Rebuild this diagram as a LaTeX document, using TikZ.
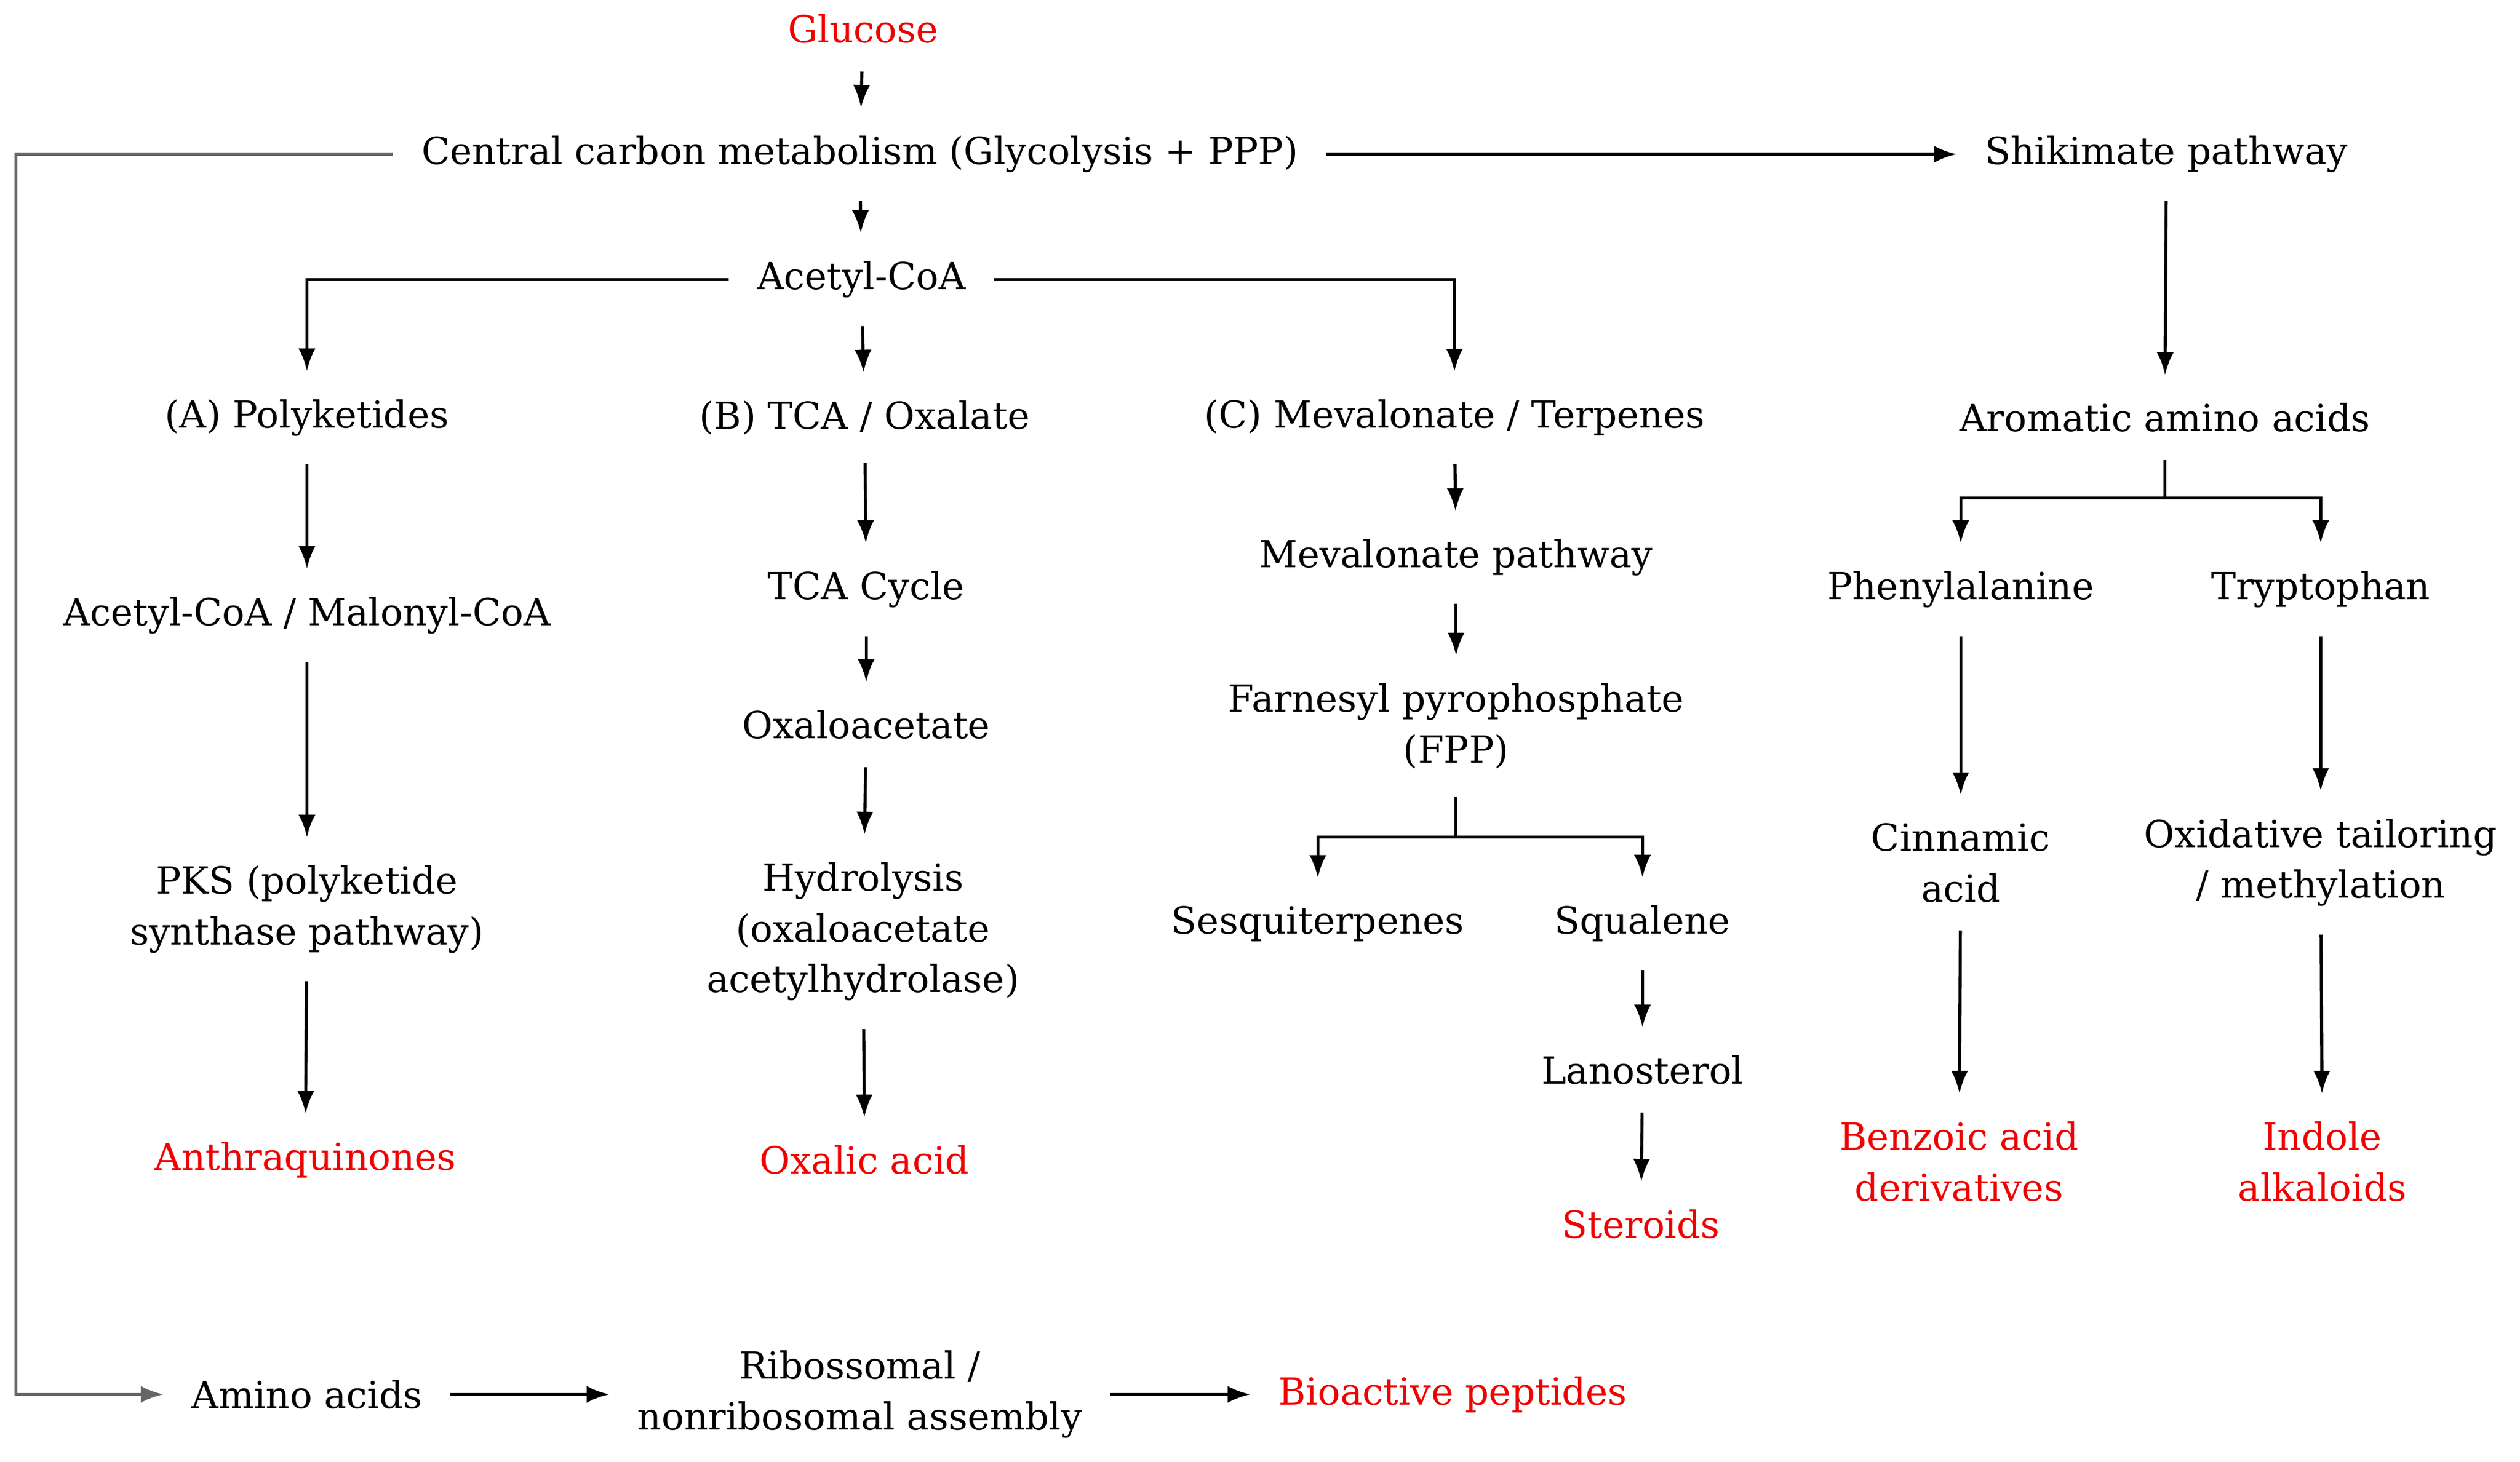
\documentclass[tikz,border=0pt]{standalone}
\usepackage{fontspec}
\setmainfont{DejaVu Serif}
\usetikzlibrary{arrows.meta}
\begin{document}
\begin{tikzpicture}[x=0.01cm,y=-0.01cm,
  every node/.style={font=\fontsize{6.6pt}{9pt}\selectfont,align=center,inner sep=1pt,outer sep=4pt},
  red/.style={text={rgb,255:red,240;green,0;blue,0}},
  arr/.style={-{Latex[length=4pt,width=3pt]},line width=0.55pt},
  ln/.style={line width=0.55pt}]
\useasboundingbox (0,0) rectangle (1568,910);
\node[red] (glucose) at (537,18) {Glucose};
\node (ccm) at (535,96) {Central carbon metabolism (Glycolysis + PPP)};
\node (shik) at (1348,96) {Shikimate pathway};
\node (acoa) at (536,174) {Acetyl-CoA};
\node (poly) at (191,260) {(A) Polyketides};
\node (tca) at (538,260) {(B) TCA / Oxalate};
\node (mev) at (905,260) {(C) Mevalonate / Terpenes};
\node (arom) at (1347,260) {Aromatic amino acids};
\node (am) at (191,383) {Acetyl-CoA / Malonyl-CoA};
\node (tcac) at (539,367) {TCA Cycle};
\node (mevp) at (906,347) {Mevalonate pathway};
\node (phe) at (1220,367) {Phenylalanine};
\node (trp) at (1444,367) {Tryptophan};
\node (oxa) at (539,451) {Oxaloacetate};
\node (fpp) at (906,452) {Farnesyl pyrophosphate\\(FPP)};
\node (pks) at (191,566) {PKS (polyketide\\synthase pathway)};
\node (hyd) at (537,580) {Hydrolysis\\(oxaloacetate\\acetylhydrolase)};
\node (sesq) at (820,575) {Sesquiterpenes};
\node (squa) at (1022,575) {Squalene};
\node (cinn) at (1220,537) {Cinnamic\\acid};
\node (oxt) at (1444,537) {Oxidative tailoring\\/ methylation};
\node (lan) at (1022,666) {Lanosterol};
\node[red] (anth) at (190,722) {Anthraquinones};
\node[red] (oxal) at (538,722) {Oxalic acid};
\node[red] (ster) at (1021,762) {Steroids};
\node[red] (benz) at (1219,723) {Benzoic acid\\derivatives};
\node[red] (indo) at (1445,723) {Indole\\alkaloids};
\node (amino) at (191,868) {Amino acids};
\node (ribo) at (535,868) {Ribossomal /\\nonribosomal assembly};
\node[red] (bio) at (904,868) {Bioactive peptides};
\coordinate (fb2) at (10,868);
\coordinate (as) at (1347,310);
\coordinate (fs) at (906,521);
\draw[arr] (glucose) -- (ccm);
\draw[arr] (ccm) -- (acoa);
\draw[arr] (ccm.east) -- (shik.west);
\draw[arr] (acoa.west) -| (poly.north);
\draw[arr] (acoa) -- (tca);
\draw[arr] (acoa.east) -| (mev.north);
\draw[arr] (shik) -- (arom);
\draw[arr] (poly) -- (am);
\draw[arr] (am) -- (pks);
\draw[arr] (pks) -- (anth);
\draw[arr] (tca) -- (tcac);
\draw[arr] (tcac) -- (oxa);
\draw[arr] (oxa) -- (hyd);
\draw[arr] (hyd) -- (oxal);
\draw[arr] (mev) -- (mevp);
\draw[arr] (mevp) -- (fpp);
\draw[ln] (fpp.south) -- (fs);
\draw[arr] (fs) -| (sesq.north);
\draw[arr] (fs) -| (squa.north);
\draw[arr] (squa) -- (lan);
\draw[arr] (lan) -- (ster);
\draw[ln] (arom.south) -- (as);
\draw[arr] (as) -| (phe.north);
\draw[arr] (as) -| (trp.north);
\draw[arr] (phe) -- (cinn);
\draw[arr] (trp) -- (oxt);
\draw[arr] (cinn) -- (benz);
\draw[arr] (oxt) -- (indo);
\draw[arr,gray!80!black] (ccm.west) -| (fb2) -- (amino.west);
\draw[arr] (amino) -- (ribo);
\draw[arr] (ribo) -- (bio);
\end{tikzpicture}
\end{document}
